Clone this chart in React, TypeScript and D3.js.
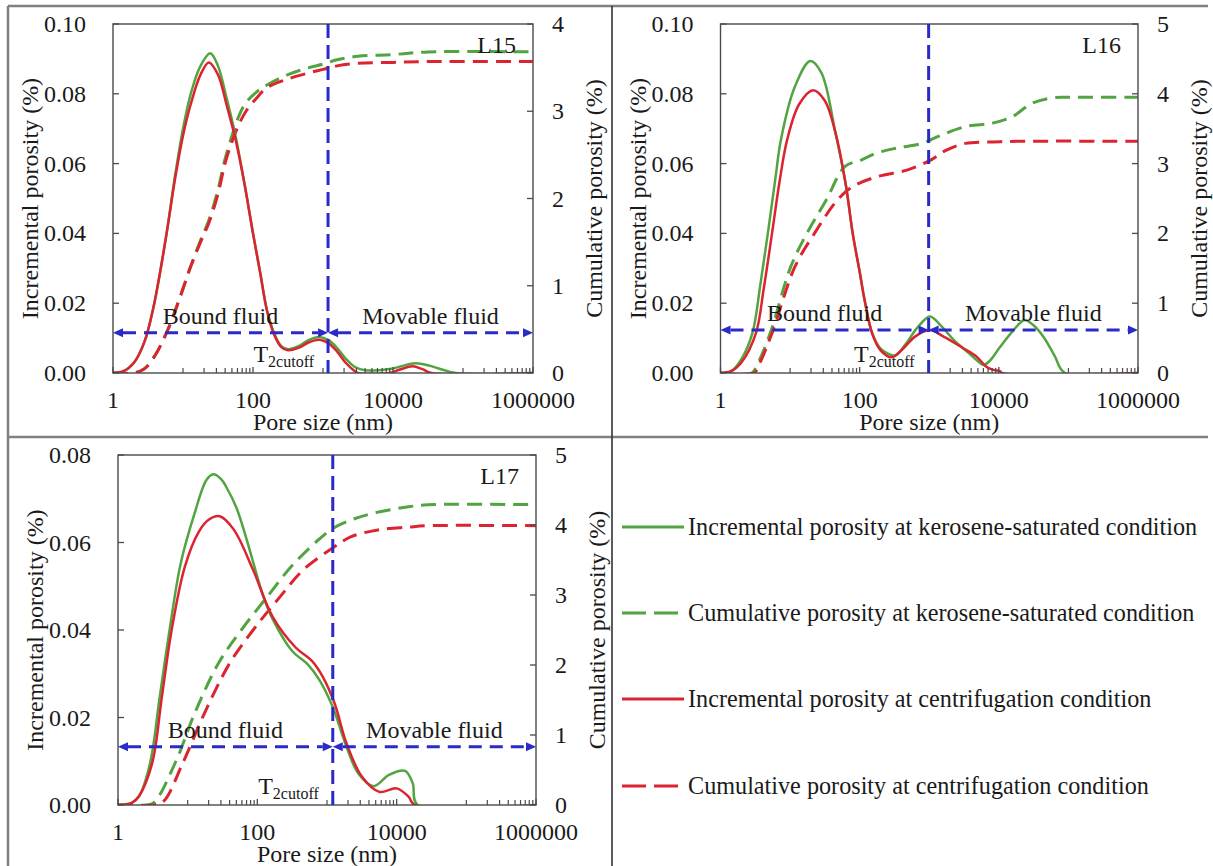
import React from "react";
import * as d3 from "d3";

type Pt = [number, number];

// ---------- data: [pore size (nm), value] ----------
// L15
const L15_incKero: Pt[] = [[1,0],[1.41,0.0005],[2,0.003],[2.82,0.009],[3.8,0.019],[5.62,0.038],[7.76,0.057],[10,0.070],[12.9,0.080],[17.8,0.088],[24.5,0.0916],[31.6,0.088],[41.7,0.079],[56.2,0.068],[75.9,0.054],[100,0.040],[126,0.029],[158,0.018],[200,0.0115],[251,0.0078],[316,0.0068],[447,0.0077],[631,0.0095],[891,0.0103],[1202,0.0094],[1585,0.0072],[2089,0.0042],[2818,0.0018],[3981,0.0008],[6310,0.0008],[10000,0.0013],[15849,0.0024],[21380,0.0028],[31623,0.0022],[50119,0.001],[79433,0],[1000000,0]];
const L15_incCent: Pt[] = [[1,0],[1.41,0.0005],[2,0.003],[2.82,0.009],[3.8,0.019],[5.62,0.038],[7.76,0.056],[10,0.068],[12.9,0.077],[17.8,0.0855],[23.4,0.089],[31.6,0.0855],[41.7,0.077],[56.2,0.067],[75.9,0.054],[100,0.040],[126,0.029],[158,0.018],[200,0.011],[251,0.0075],[316,0.0065],[447,0.0072],[631,0.0088],[891,0.0095],[1202,0.0085],[1585,0.0062],[2089,0.003],[2818,0.0006],[3162,0],[8913,0],[12589,0.001],[19055,0.0019],[26303,0.0011],[35481,0],[1000000,0]];
const L15_cumKero: Pt[] = [[1,0],[2,0],[2.82,0.05],[3.98,0.2],[6.03,0.49],[8.91,0.85],[12.6,1.2],[17.8,1.52],[23.4,1.75],[31.6,2.1],[39.8,2.45],[50.1,2.72],[63.1,2.95],[79.4,3.1],[112,3.22],[158,3.3],[316,3.42],[631,3.5],[1000,3.54],[1585,3.59],[3162,3.63],[10000,3.65],[31623,3.68],[1000000,3.68]];
const L15_cumCent: Pt[] = [[1,0],[2,0],[2.82,0.05],[3.98,0.2],[6.03,0.49],[8.91,0.85],[12.6,1.2],[17.8,1.5],[23.4,1.72],[31.6,2.05],[39.8,2.4],[50.1,2.65],[63.1,2.85],[79.4,3.0],[112,3.15],[158,3.27],[316,3.37],[631,3.44],[1000,3.48],[1585,3.52],[3162,3.55],[10000,3.56],[31623,3.57],[1000000,3.57]];
// L16
const L16_incKero: Pt[] = [[1,0],[1.41,0.0005],[2,0.004],[2.88,0.0115],[3.72,0.025],[4.79,0.040],[6.17,0.056],[7.41,0.067],[11.7,0.082],[19.5,0.0894],[28.2,0.086],[44.7,0.069],[63.1,0.054],[79.4,0.040],[100,0.029],[117.5,0.021],[151,0.0114],[200,0.007],[324,0.005],[447,0.008],[676,0.013],[1023,0.0162],[1479,0.0135],[2239,0.0095],[3548,0.006],[4786,0.0037],[6026,0.0023],[7413,0.0035],[10471,0.0075],[15849,0.012],[23442,0.0152],[30903,0.0138],[43652,0.0104],[63096,0.005],[89125,0],[1000000,0]];
const L16_incCent: Pt[] = [[1,0],[1.41,0.0005],[2,0.003],[3.24,0.0115],[4.17,0.024],[5.5,0.040],[7.08,0.055],[9.12,0.067],[13.5,0.077],[21.4,0.081],[31.6,0.078],[44.7,0.069],[63.1,0.054],[79.4,0.040],[100,0.029],[117.5,0.021],[151,0.0114],[200,0.0065],[288,0.0045],[398,0.0065],[631,0.0105],[1023,0.0123],[1585,0.0105],[3090,0.0071],[4786,0.0047],[6607,0.0018],[8318,0.0009],[10471,0.0005],[11000,0],[1000000,0]];
const L16_cumKero: Pt[] = [[1,0],[2.82,0],[3.3,0.1],[5.1,0.55],[10.2,1.52],[17.4,2.0],[33.1,2.48],[61.7,2.96],[105,3.05],[174,3.15],[331,3.22],[794,3.29],[1349,3.39],[3311,3.53],[8128,3.58],[15488,3.67],[29512,3.86],[56234,3.94],[100000,3.95],[1000000,3.95]];
const L16_cumCent: Pt[] = [[1,0],[3.02,0],[3.5,0.1],[5.5,0.57],[11.7,1.52],[22.4,2.0],[47.9,2.48],[79.4,2.67],[174,2.81],[490,2.91],[1047,3.05],[1738,3.19],[3311,3.29],[8128,3.31],[20000,3.32],[1000000,3.32]];
// L17
const L17_incKero: Pt[] = [[1,0],[1.58,0.0005],[2,0.002],[2.88,0.0095],[3.98,0.0248],[5.5,0.040],[7.94,0.0552],[12.6,0.0667],[18.6,0.0743],[23.4,0.0756],[30.2,0.0745],[35.5,0.0728],[50,0.068],[70.8,0.0605],[87.1,0.0555],[120,0.048],[166,0.0425],[316,0.0352],[525,0.0322],[776,0.0286],[1202,0.0225],[1905,0.0133],[2818,0.0072],[4677,0.0043],[7762,0.0069],[13183,0.0078],[16982,0.005],[19953,0],[1000000,0]];
const L17_incCent: Pt[] = [[1,0],[1.58,0.0005],[2,0.002],[3.09,0.0095],[4.27,0.0248],[5.89,0.040],[9.12,0.0545],[14.5,0.0625],[20,0.0652],[28.8,0.066],[45.7,0.063],[87.1,0.0537],[166,0.043],[355,0.036],[603,0.033],[871,0.0293],[1288,0.0232],[1905,0.0141],[3162,0.0065],[5623,0.003],[10000,0.0038],[14791,0.0019],[18197,0],[1000000,0]];
const L17_cumKero: Pt[] = [[1,0],[2.5,0],[3.24,0.03],[6.61,0.6],[12.6,1.31],[27.5,2.02],[58.9,2.5],[145,3.0],[316,3.42],[776,3.8],[1202,3.95],[2188,4.07],[4677,4.17],[14791,4.26],[28184,4.29],[1000000,4.29]];
const L17_cumCent: Pt[] = [[1,0],[3.16,0],[4.47,0.05],[8.51,0.6],[17.4,1.31],[39.8,2.02],[87.1,2.5],[214,2.98],[457,3.36],[1202,3.67],[2188,3.83],[5370,3.93],[14791,3.97],[28184,3.99],[1000000,3.99]];

const xTicks = [1, 100, 10000, 1000000];
const incTicks15 = [0, 0.02, 0.04, 0.06, 0.08, 0.1];
const incTicks17 = [0, 0.02, 0.04, 0.06, 0.08];
const cumTicks4 = [0, 1, 2, 3, 4];
const cumTicks5 = [0, 1, 2, 3, 4, 5];
const cutoffs = [1180, 980, 1210];
const arrowLevels = [0.0115, 0.0123, 0.0133];
const panelNames = ["L15", "L16", "L17"];

const legendLabels = [
  "Incremental porosity at kerosene-saturated condition",
  "Cumulative porosity at kerosene-saturated condition",
  "Incremental porosity at centrifugation condition",
  "Cumulative porosity at centrifugation condition",
];

const GREEN = "#52a441";
const RED = "#dc2430";
const BLUE = "#2a2ac8";
const TXT = "#1a1a1a";
const FONT = '"Liberation Serif", "Times New Roman", Times, "DejaVu Serif", serif';

interface PanelCfg {
  name: string;
  left: number; right: number; top: number; bottom: number;
  incTicks: number[]; cumTicks: number[];
  cutoff: number; arrow: number;
  incKero: Pt[]; incCent: Pt[]; cumKero: Pt[]; cumCent: Pt[];
}

const panels: PanelCfg[] = [
  { name: panelNames[0], left: 113, right: 533, top: 24, bottom: 373, incTicks: incTicks15, cumTicks: cumTicks4, cutoff: cutoffs[0], arrow: arrowLevels[0], incKero: L15_incKero, incCent: L15_incCent, cumKero: L15_cumKero, cumCent: L15_cumCent },
  { name: panelNames[1], left: 720.5, right: 1138, top: 24, bottom: 373, incTicks: incTicks15, cumTicks: cumTicks5, cutoff: cutoffs[1], arrow: arrowLevels[1], incKero: L16_incKero, incCent: L16_incCent, cumKero: L16_cumKero, cumCent: L16_cumCent },
  { name: panelNames[2], left: 118, right: 536, top: 455, bottom: 805, incTicks: incTicks17, cumTicks: cumTicks5, cutoff: cutoffs[2], arrow: arrowLevels[2], incKero: L17_incKero, incCent: L17_incCent, cumKero: L17_cumKero, cumCent: L17_cumCent },
];

function Arrowhead({ x, y, dir }: { x: number; y: number; dir: number }) {
  const L = 10, H = 4.5;
  return <polygon points={`${x},${y} ${x - dir * L},${y - H} ${x - dir * L},${y + H}`} fill={BLUE} />;
}

function Panel({ c }: { c: PanelCfg }) {
  const x = d3.scaleLog().domain([1, 1e6]).range([c.left, c.right]);
  const incMax = c.incTicks[c.incTicks.length - 1];
  const cumMax = c.cumTicks[c.cumTicks.length - 1];
  const yI = d3.scaleLinear().domain([0, incMax]).range([c.bottom, c.top]);
  const yC = d3.scaleLinear().domain([0, cumMax]).range([c.bottom, c.top]);
  const curve = d3.curveCatmullRom.alpha(0.5);
  const lineI = d3.line<Pt>().x(d => x(d[0])).y(d => yI(d[1])).curve(curve);
  const lineC = d3.line<Pt>().x(d => x(d[0])).y(d => yC(d[1])).curve(curve);
  const minor: number[] = [];
  for (let p = 0; p < 3; p++) for (let k = 10; k <= 90; k += 10) minor.push(k * Math.pow(100, p));
  const xc = x(c.cutoff);
  const ya = yI(c.arrow);
  const fmt = d3.format(".2f");
  const midY = (c.top + c.bottom) / 2;
  const tick = 6;
  const clipId = "clip-" + c.name;
  return (
    <g fill={TXT}>
      <defs>
        <clipPath id={clipId}>
          <rect x={c.left} y={c.top - 5} width={c.right - c.left} height={c.bottom - c.top + 5} />
        </clipPath>
      </defs>
      {/* curves */}
      <g clipPath={`url(#${clipId})`}>
        <path d={lineC(c.cumKero) || ""} fill="none" stroke={GREEN} strokeWidth={3} strokeDasharray="15,8" />
        <path d={lineC(c.cumCent) || ""} fill="none" stroke={RED} strokeWidth={3} strokeDasharray="15,8" />
        <path d={lineI(c.incKero) || ""} fill="none" stroke={GREEN} strokeWidth={2.5} />
        <path d={lineI(c.incCent) || ""} fill="none" stroke={RED} strokeWidth={2.5} />
      </g>
      {/* frame */}
      <rect x={c.left} y={c.top} width={c.right - c.left} height={c.bottom - c.top} fill="none" stroke="#4a4a4a" strokeWidth={1.4} />
      {/* ticks */}
      {c.incTicks.map(t => (
        <g key={"i" + t}>
          <line x1={c.left} x2={c.left + tick} y1={yI(t)} y2={yI(t)} stroke="#4a4a4a" strokeWidth={1.3} />
          <text x={c.left - 27} y={yI(t) + 8} textAnchor="end" fontSize={24}>{fmt(t)}</text>
        </g>
      ))}
      {c.cumTicks.map(t => (
        <g key={"c" + t}>
          <line x1={c.right} x2={c.right - tick} y1={yC(t)} y2={yC(t)} stroke="#4a4a4a" strokeWidth={1.3} />
          <text x={c.right + 19} y={yC(t) + 8} textAnchor="start" fontSize={24}>{t}</text>
        </g>
      ))}
      {minor.map(t => (
        <line key={"m" + t} x1={x(t)} x2={x(t)} y1={c.bottom} y2={c.bottom - 5} stroke="#4a4a4a" strokeWidth={1.2} />
      ))}
      {xTicks.map(t => (
        <g key={"x" + t}>
          <line x1={x(t)} x2={x(t)} y1={c.bottom} y2={c.bottom - tick} stroke="#4a4a4a" strokeWidth={1.3} />
          <text x={x(t)} y={c.bottom + 35} textAnchor="middle" fontSize={24}>{t}</text>
        </g>
      ))}
      {/* axis titles */}
      <text x={(c.left + c.right) / 2} y={c.bottom + 57} textAnchor="middle" fontSize={24}>Pore size (nm)</text>
      <text transform={`translate(${c.left - 75},${midY}) rotate(-90)`} textAnchor="middle" fontSize={24}>Incremental porosity (%)</text>
      <text transform={`translate(${c.right + 69},${midY}) rotate(-90)`} textAnchor="middle" fontSize={24}>Cumulative porosity (%)</text>
      {/* cutoff line and arrows */}
      <line x1={xc} x2={xc} y1={c.top} y2={c.bottom} stroke={BLUE} strokeWidth={3} strokeDasharray="14,7" />
      <line x1={c.left + 10} x2={xc - 10} y1={ya} y2={ya} stroke={BLUE} strokeWidth={3} strokeDasharray="13,8" />
      <line x1={xc + 10} x2={c.right - 10} y1={ya} y2={ya} stroke={BLUE} strokeWidth={3} strokeDasharray="13,8" />
      <Arrowhead x={c.left} y={ya} dir={-1} />
      <Arrowhead x={xc} y={ya} dir={1} />
      <Arrowhead x={xc} y={ya} dir={-1} />
      <Arrowhead x={c.right} y={ya} dir={1} />
      <text x={(c.left + xc) / 2} y={ya - 9} textAnchor="middle" fontSize={24}>Bound fluid</text>
      <text x={(xc + c.right) / 2} y={ya - 9} textAnchor="middle" fontSize={24}>Movable fluid</text>
      <text x={xc - 14} y={c.bottom - 11} textAnchor="end" fontSize={24}>
        T<tspan fontSize={16} dy={5}>2cutoff</tspan>
      </text>
      <text x={c.right - 17} y={c.top + 29} textAnchor="end" fontSize={24}>{c.name}</text>
    </g>
  );
}

export default function App() {
  const legendY = [527, 613, 699, 786];
  const legendColors = [GREEN, GREEN, RED, RED];
  const legendDash = ["none", "24,8", "none", "24,8"];
  return (
    <svg width={1213} height={866} style={{ position: "absolute", left: 0, top: 0, background: "#fff", fontFamily: FONT }}>
      <rect x={0} y={0} width={1213} height={866} fill="#fff" />
      {/* outer frame and dividers */}
      <line x1={8} x2={8} y1={6} y2={866} stroke="#808080" strokeWidth={2.5} />
      <line x1={8} x2={1208} y1={6} y2={6} stroke="#808080" strokeWidth={2.5} />
      <line x1={8} x2={1208} y1={437} y2={437} stroke="#808080" strokeWidth={2.5} />
      <line x1={612} x2={612} y1={6} y2={866} stroke="#333" strokeWidth={1.6} />
      {panels.map(p => <Panel key={p.name} c={p} />)}
      {/* legend */}
      <g fill={TXT}>
        {legendLabels.map((lab, i) => (
          <g key={lab}>
            <line x1={622} x2={684} y1={legendY[i]} y2={legendY[i]} stroke={legendColors[i]} strokeWidth={3} strokeDasharray={legendDash[i]} />
            <text x={688} y={legendY[i] + 8} fontSize={24.2}>{lab}</text>
          </g>
        ))}
      </g>
    </svg>
  );
}
